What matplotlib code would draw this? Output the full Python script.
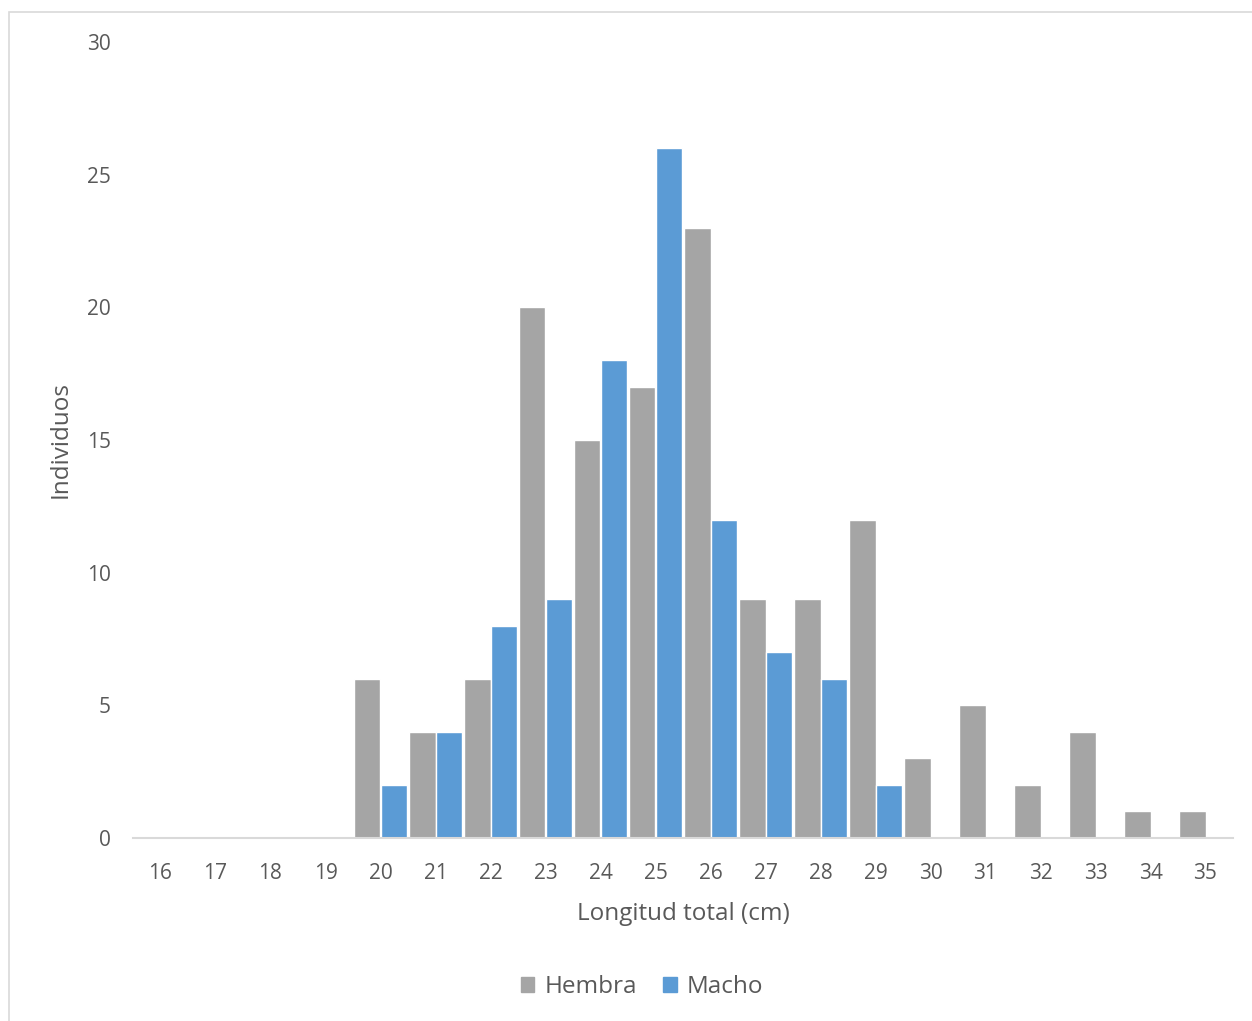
import matplotlib
matplotlib.use("Agg")
import matplotlib.pyplot as plt
import numpy as np
from matplotlib.patches import Rectangle, Patch

categories = list(range(16, 36))
hembra = [0, 0, 0, 0, 6, 4, 6, 20, 15, 17, 23, 9, 9, 12, 3, 5, 2, 4, 1, 1]
macho = [0, 0, 0, 0, 2, 4, 8, 9, 18, 26, 12, 7, 6, 2, 0, 0, 0, 0, 0, 0]
yticks = [0, 5, 10, 15, 20, 25, 30]

plt.rcParams['font.family'] = ['Open Sans', 'DejaVu Sans']
txt = '#595959'
gray = '#A5A5A5'
blue = '#5B9BD5'

W, H = 1252, 1021
fig = plt.figure(figsize=(W / 100, H / 100), dpi=100)
fig.patches.append(Rectangle((9 / W, -0.1), 1.2, 1 - 12 / H + 0.1, transform=fig.transFigure,
                             fill=False, edgecolor='#D9D9D9', linewidth=1.2))
ax = fig.add_axes([133 / W, 183 / H, 1100 / W, (838 - 42) / H])

x = np.arange(len(categories))
bw = 0.48
ax.bar(x - bw / 2, hembra, width=bw, color=gray, edgecolor='white', linewidth=1.0, label='Hembra')
ax.bar(x + bw / 2, macho, width=bw, color=blue, edgecolor='white', linewidth=1.0, label='Macho')

ax.set_xlim(-0.5, len(categories) - 0.5)
ax.set_ylim(0, 30)
ax.set_xticks(x)
ax.set_xticklabels([str(c) for c in categories])
ax.set_yticks(yticks)
ax.tick_params(axis='both', length=0, labelsize=15, colors=txt)
ax.tick_params(axis='x', pad=18)
ax.tick_params(axis='y', pad=16)
for s in ['top', 'right', 'left']:
    ax.spines[s].set_visible(False)
ax.spines['bottom'].set_color('#D9D9D9')
ax.spines['bottom'].set_linewidth(1.5)

ax.set_xlabel('Longitud total (cm)', fontsize=17.5, color=txt, labelpad=13)
ax.set_ylabel('Individuos', fontsize=17.5, color=txt, labelpad=10)

handles = [Patch(color=gray, label='Hembra'), Patch(color=blue, label='Macho')]
fig.legend(handles=handles, loc='center', bbox_to_anchor=(642 / W, 1 - 987 / H), ncol=2,
           frameon=False, fontsize=17.5, labelcolor=txt, handlelength=0.55, handleheight=0.55,
           handletextpad=0.4, columnspacing=1.1)

fig.savefig('out.png', dpi=100)
